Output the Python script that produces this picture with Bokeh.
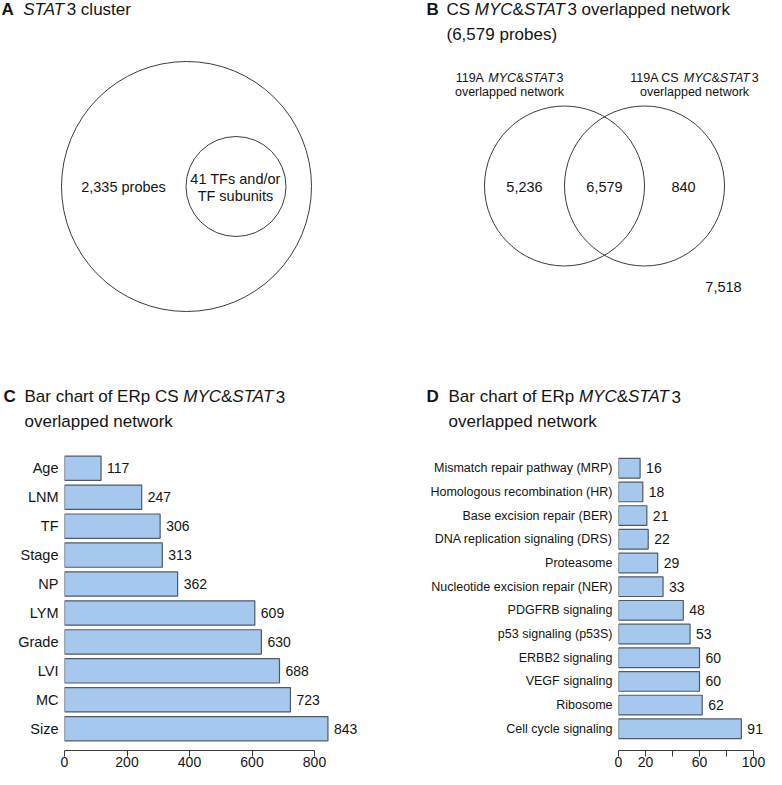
from bokeh.plotting import figure
from bokeh.layouts import column, row
from bokeh.models import Range1d, FactorRange, FixedTicker, ColumnDataSource
from bokeh.core.properties import value
from bokeh.embed import file_html
from bokeh.resources import INLINE

FONT = "Liberation Sans"
INK = "#141414"

# ---------------- data ----------------
stat3_probes = 2335
stat3_tfs = 41

venn_b_119a_only = 5236
venn_b_overlap = 6579
venn_b_cs_only = 840
venn_b_outside = 7518

c_categories = ["Age", "LNM", "TF", "Stage", "NP", "LYM", "Grade", "LVI", "MC", "Size"]
c_values = [117, 247, 306, 313, 362, 609, 630, 688, 723, 843]
c_ticks = [0, 200, 400, 600, 800]

d_categories = ["Mismatch repair pathway (MRP)", "Homologous recombination (HR)",
                "Base excision repair (BER)", "DNA replication signaling (DRS)",
                "Proteasome", "Nucleotide excision repair (NER)", "PDGFRB signaling",
                "p53 signaling (p53S)", "ERBB2 signaling", "VEGF signaling",
                "Ribosome", "Cell cycle signaling"]
d_values = [16, 18, 21, 22, 29, 33, 48, 53, 60, 60, 62, 91]
d_ticks = [0, 20, 40, 60, 80, 100]
d_tick_labels = ["0", "20", "", "60", "", "100"]

BAR_FILL = "#a7c8ee"
BAR_LINE = "#4e5a66"

# ---------------- text width helper (Arial / Liberation metrics) ----------------
_W = {' ': 278, '!': 278, '&': 667, '(': 333, ')': 333, ',': 278, '.': 278, '/': 278,
      'A': 667, 'B': 667, 'C': 722, 'D': 722, 'E': 667, 'F': 611, 'G': 778, 'H': 722,
      'I': 278, 'J': 500, 'K': 667, 'L': 556, 'M': 833, 'N': 722, 'O': 778, 'P': 667,
      'Q': 778, 'R': 722, 'S': 667, 'T': 611, 'U': 722, 'V': 667, 'W': 944, 'X': 667,
      'Y': 667, 'Z': 611, 'a': 556, 'b': 556, 'c': 500, 'd': 556, 'e': 556, 'f': 278,
      'g': 556, 'h': 556, 'i': 222, 'j': 222, 'k': 500, 'l': 222, 'm': 833, 'n': 556,
      'o': 556, 'p': 556, 'q': 556, 'r': 333, 's': 500, 't': 278, 'u': 556, 'v': 500,
      'w': 722, 'x': 500, 'y': 500, 'z': 500}
_WB = {'A': 722, 'B': 722, 'C': 722, 'D': 722}


def text_width(s, style, size):
    tot = 0
    for ch in s:
        if style == "bold" and ch in _WB:
            tot += _WB[ch]
        elif ch.isdigit():
            tot += 556
        else:
            tot += _W.get(ch, 556)
    return tot * size / 1000.0


def seg_line(p, x, y, segs, size, align="left"):
    if align == "center":
        total = sum(text_width(t, s, size) for t, s in segs)
        x = x - total / 2.0
    for t, s in segs:
        p.text(x=[x], y=[y], text=[t], text_font=value(FONT), text_font_size=f"{size}px",
               text_font_style=s, text_baseline="middle", text_align="left", text_color=INK)
        x += text_width(t, s, size)


def blank(x0, x1, y0, y1, w, h):
    p = figure(width=w, height=h, x_range=Range1d(x0, x1), y_range=Range1d(y1, y0),
               output_backend="svg", toolbar_location=None,
               x_axis_location=None, y_axis_location=None, min_border=0)
    p.grid.visible = False
    p.outline_line_color = None
    return p


TOP_H = 436
# ---------------- panel A ----------------
pa = blank(8, 391, 8, 8 + TOP_H, 383, TOP_H)
seg_line(pa, 9, 17, [("A", "bold"), ("  ", "normal"), ("STAT", "italic"), ("3 cluster", "normal")], 17)
pa.circle(x=[194], y=[194], radius=125, fill_color=None, line_color="#3c3c3c", line_width=1)
pa.circle(x=[243.5], y=[194], radius=50, fill_color=None, line_color="#3c3c3c", line_width=1)
pa.text(x=[131], y=[194], text=[f"{stat3_probes:,} probes"], text_font=value(FONT),
        text_font_size="14.5px", text_align="center", text_baseline="middle", text_color=INK)
pa.text(x=[243, 243], y=[186, 203], text=[f"{stat3_tfs} TFs and/or", "TF subunits"],
        text_font=value(FONT), text_font_size="14.5px", text_align="center",
        text_baseline="middle", text_color=INK)
# panel C title (drawn in the upper canvas)
seg_line(pa, 11, 404, [("C", "bold")], 17)
seg_line(pa, 32, 404, [("Bar chart of ERp CS ", "normal"), ("MYC", "italic"), ("&", "normal"),
                       ("STAT", "italic"), ("3", "normal")], 17)
seg_line(pa, 32, 429, [("overlapped network", "normal")], 17)

# ---------------- panel B ----------------
pb = blank(391, 774, 8, 8 + TOP_H, 383, TOP_H)
seg_line(pb, 434, 17, [("B", "bold")], 17)
seg_line(pb, 454, 17, [("CS ", "normal"), ("MYC", "italic"), ("&", "normal"), ("STAT", "italic"),
                       ("3 overlapped network", "normal")], 17)
seg_line(pb, 454, 42, [(f"({venn_b_overlap:,} probes)", "normal")], 17)
seg_line(pb, 517, 85, [("119A ", "normal"), ("MYC", "italic"), ("&", "normal"), ("STAT", "italic"),
                       ("3", "normal")], 12.5, align="center")
seg_line(pb, 517, 99, [("overlapped network", "normal")], 12.5, align="center")
seg_line(pb, 702, 85, [("119A CS ", "normal"), ("MYC", "italic"), ("&", "normal"), ("STAT", "italic"),
                       ("3", "normal")], 12.5, align="center")
seg_line(pb, 702, 99, [("overlapped network", "normal")], 12.5, align="center")
pb.circle(x=[572, 652], y=[193.5, 193.5], radius=80, fill_color=None, line_color="#3c3c3c", line_width=1)
pb.text(x=[532, 612, 691, 731], y=[194, 194, 194, 294],
        text=[f"{v:,}" for v in (venn_b_119a_only, venn_b_overlap, venn_b_cs_only, venn_b_outside)],
        text_font=value(FONT), text_font_size="14.5px", text_align="center",
        text_baseline="middle", text_color=INK)
# panel D title
seg_line(pb, 434, 404, [("D", "bold")], 17)
seg_line(pb, 456, 404, [("Bar chart of ERp ", "normal"), ("MYC", "italic"), ("&", "normal"),
                        ("STAT", "italic"), ("3", "normal")], 17)
seg_line(pb, 456, 429, [("overlapped network", "normal")], 17)


# ---------------- bar charts ----------------
def bar_panel(cats, vals, pad, xmax, ticks, tick_labels, bounds, border_left, cat_font, height_frac):
    BOT_H = 769 - TOP_H
    p = figure(width=383, height=BOT_H,
               y_range=FactorRange(factors=cats[::-1], range_padding=pad, range_padding_units="absolute"),
               x_range=Range1d(0, xmax), output_backend="svg", toolbar_location=None,
               min_border_left=border_left, min_border_right=0, min_border_top=10, min_border_bottom=0)
    src = ColumnDataSource(dict(cat=cats, val=vals, lab=[str(v) for v in vals]))
    p.hbar(y="cat", left=0, right="val", height=height_frac, source=src,
           fill_color=BAR_FILL, line_color=BAR_LINE, line_width=1.2)
    p.text(x="val", y="cat", text="lab", source=src, x_offset=6, text_font=value(FONT),
           text_font_size="14px", text_baseline="middle", text_align="left", text_color=INK)
    p.grid.visible = False
    p.outline_line_color = None
    xa = p.xaxis[0]
    xa.ticker = FixedTicker(ticks=ticks)
    xa.major_label_overrides = {t: l for t, l in zip(ticks, tick_labels)}
    xa.bounds = bounds
    xa.major_tick_out = 6
    xa.major_tick_in = 0
    xa.minor_tick_line_color = None
    xa.axis_line_color = "#3a3a3a"
    xa.major_tick_line_color = "#3a3a3a"
    xa.major_label_standoff = 0
    xa.major_label_text_font = FONT
    xa.major_label_text_font_size = "14px"
    xa.major_label_text_color = INK
    ya = p.yaxis[0]
    ya.axis_line_color = None
    ya.major_tick_line_color = None
    ya.minor_tick_line_color = None
    ya.major_tick_out = 0
    ya.major_tick_in = 0
    ya.major_label_standoff = 6
    ya.major_label_text_font = FONT
    ya.major_label_text_font_size = cat_font
    ya.major_label_text_color = INK
    return p


pc = bar_panel(c_categories, c_values, 0.253, 319 / 0.3125, c_ticks, [str(t) for t in c_ticks],
               (0, 800), 64, "14.5px", 0.84)
pd_ = bar_panel(d_categories, d_values, 0.417, 148 / 1.35, d_ticks, d_tick_labels,
                (0, 100), 235, "12.5px", 0.83)

layout = column(row(pa, pb), row(pc, pd_))
open("out.html", "w").write(file_html(layout, INLINE))
